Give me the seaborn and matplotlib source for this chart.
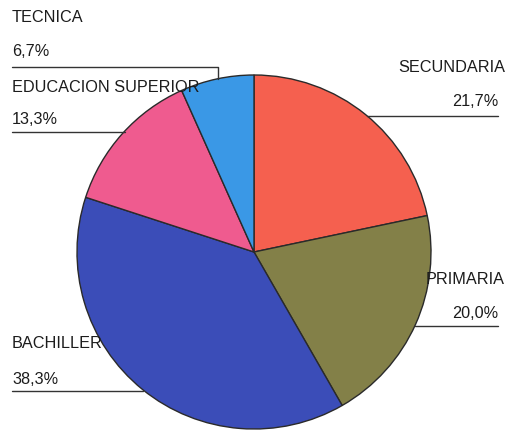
import matplotlib
matplotlib.use("Agg")
import matplotlib.pyplot as plt
import seaborn as sns

# Nivel educativo (porcentajes)
categorias = ["SECUNDARIA", "PRIMARIA", "BACHILLER", "EDUCACION SUPERIOR", "TECNICA"]
valores = [21.7, 20.0, 38.3, 13.3, 6.7]
etiquetas_pct = ["21,7%", "20,0%", "38,3%", "13,3%", "6,7%"]
colores = ["#F5604F", "#838048", "#3B4DB8", "#EF5B8F", "#3A98E6"]

sns.set_theme(style="white")
plt.rcParams["font.family"] = ["Liberation Sans", "DejaVu Sans"]

W, H = 508, 430
fig = plt.figure(figsize=(W / 100, H / 100), dpi=100)
ax = fig.add_axes([0, 0, 1, 1])

cx, cy, r = 254, H - 252, 177
ax.pie(valores, colors=colores, startangle=90, counterclock=False,
       center=(cx, cy), radius=r,
       wedgeprops=dict(edgecolor="#2a2a2a", linewidth=1.0))
ax.set_xlim(0, W)
ax.set_ylim(0, H)
ax.axis("off")

fs = 11.7
tc = "#1c1c1c"
lc = "#333333"

def y(p):
    return H - p

# Leader/underline lines (pixel layout)
# SECUNDARIA
ax.plot([367, 498], [y(116), y(116)], color=lc, lw=1.0)
ax.text(505, y(67), categorias[0], ha="right", va="center", fontsize=fs, color=tc)
ax.text(498, y(102), etiquetas_pct[0], ha="right", va="center", fontsize=fs, color=tc)
# PRIMARIA
ax.plot([415, 498], [y(326), y(326)], color=lc, lw=1.0)
ax.text(505, y(280), categorias[1], ha="right", va="center", fontsize=fs, color=tc)
ax.text(498, y(313), etiquetas_pct[1], ha="right", va="center", fontsize=fs, color=tc)
# BACHILLER
ax.plot([12, 143], [y(391), y(391)], color=lc, lw=1.0)
ax.text(12, y(343), categorias[2], ha="left", va="center", fontsize=fs, color=tc)
ax.text(12, y(380), etiquetas_pct[2], ha="left", va="center", fontsize=fs, color=tc)
# EDUCACION SUPERIOR
ax.plot([12, 125], [y(132), y(132)], color=lc, lw=1.0)
ax.text(12, y(87), categorias[3], ha="left", va="center", fontsize=fs, color=tc)
ax.text(12, y(119), etiquetas_pct[3], ha="left", va="center", fontsize=fs, color=tc)
# TECNICA
ax.plot([12, 218, 218], [y(67), y(67), y(79)], color=lc, lw=1.0)
ax.text(12, y(18), categorias[4], ha="left", va="center", fontsize=fs, color=tc)
ax.text(12, y(52), etiquetas_pct[4], ha="left", va="center", fontsize=fs, color=tc)

fig.savefig("out.png", dpi=100)
